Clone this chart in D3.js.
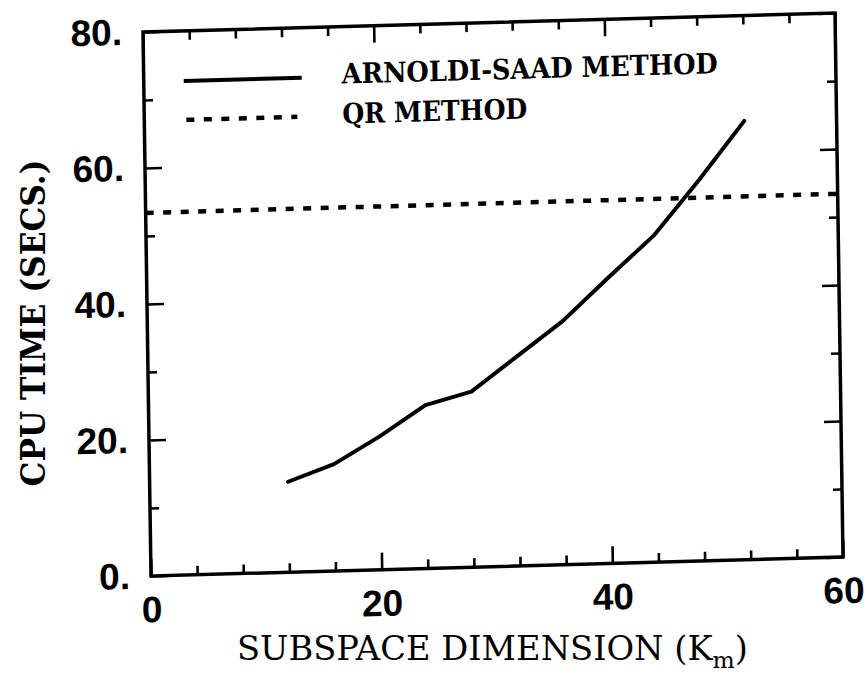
<!DOCTYPE html>
<html>
<head>
<meta charset="utf-8">
<script src="https://cdn.jsdelivr.net/npm/d3@7"></script>
<style>
  html, body { margin: 0; padding: 0; background: #fff; }
  svg { display: block; }
</style>
</head>
<body>
<svg id="chart" width="866" height="683"></svg>
<script>
// Subspace dimension (Km) and CPU time of the Arnoldi-Saad method
const subspaceDim = [12, 16, 20, 24, 28, 32, 36, 40, 44, 48, 52];
const arnoldiSaadTime = [13.3, 15.7, 19.6, 24.0, 25.8, 30.8, 35.8, 42.0, 48.0, 56.0, 64.5];

// QR method: CPU time does not depend on the subspace dimension
const qrDim = [0, 60];
const qrTime = [53.4, 53.4];

// Axis ticks
const xMajorTicks = [0, 20, 40, 60];
const xMinorTicks = [4, 8, 12, 16, 24, 28, 32, 36, 44, 48, 52, 56];
const yMajorTicks = [0, 20, 40, 60, 80];
const yMinorTicks = [10, 30, 50, 70];

const legendLabels = ["ARNOLDI-SAAD METHOD", "QR METHOD"];
const xTitle = "SUBSPACE DIMENSION (K";
const xTitleSub = "m";
const yTitle = "CPU TIME (SECS.)";

const W = 692, H = 544;
const svg = d3.select("#chart");

// plot frame, slightly sheared as on the printed page
const g = svg.append("g")
  .attr("transform", "matrix(1,-0.0275,0.0147,1,143,32)");

const x = d3.scaleLinear().domain([0, 60]).range([0, W]);
const y = d3.scaleLinear().domain([0, 80]).range([H, 0]);

const MAJ = 17, MIN = 9;
const tickFont = "'Liberation Sans', Arial, sans-serif";

function styleAxis(sel) {
  sel.select(".domain").remove();
  sel.selectAll(".tick line").attr("stroke", "#000").attr("stroke-width", 2.6);
  sel.selectAll(".tick text")
    .attr("fill", "#000")
    .style("font-family", tickFont)
    .style("font-weight", "bold")
    .style("font-size", "37px");
}

// bottom axis
g.append("g").attr("transform", `translate(0,${H})`)
  .call(d3.axisBottom(x).tickValues(xMajorTicks).tickSize(-MAJ).tickPadding(20).tickFormat(d3.format("d")))
  .call(styleAxis);
g.append("g").attr("transform", `translate(0,${H})`)
  .call(d3.axisBottom(x).tickValues(xMinorTicks).tickSize(-MIN).tickFormat(""))
  .call(styleAxis);

// top axis
g.append("g")
  .call(d3.axisTop(x).tickValues(xMajorTicks).tickSize(-MAJ).tickFormat(""))
  .call(styleAxis);
g.append("g")
  .call(d3.axisTop(x).tickValues(xMinorTicks).tickSize(-MIN).tickFormat(""))
  .call(styleAxis);

// left axis
g.append("g")
  .call(d3.axisLeft(y).tickValues(yMajorTicks).tickSize(-MAJ).tickPadding(21).tickFormat(d => d + "."))
  .call(styleAxis);
g.append("g")
  .call(d3.axisLeft(y).tickValues(yMinorTicks).tickSize(-MIN).tickFormat(""))
  .call(styleAxis);

// right axis
g.append("g").attr("transform", `translate(${W},0)`)
  .call(d3.axisRight(y).tickValues(yMajorTicks).tickSize(-MAJ).tickFormat(""))
  .call(styleAxis);
g.append("g").attr("transform", `translate(${W},0)`)
  .call(d3.axisRight(y).tickValues(yMinorTicks).tickSize(-MIN).tickFormat(""))
  .call(styleAxis);

// frame
g.append("rect")
  .attr("x", 0).attr("y", 0).attr("width", W).attr("height", H)
  .attr("fill", "none").attr("stroke", "#000").attr("stroke-width", 3.5);

// series
const arnoldi = subspaceDim.map((d, i) => [d, arnoldiSaadTime[i]]);
const qr = qrDim.map((d, i) => [d, qrTime[i]]);
const line = d3.line().x(d => x(d[0])).y(d => y(d[1]));

g.append("path")
  .datum(qr)
  .attr("d", line)
  .attr("fill", "none")
  .attr("stroke", "#000")
  .attr("stroke-width", 4.5)
  .attr("stroke-dasharray", "8 9.5");

g.append("path")
  .datum(arnoldi)
  .attr("d", line)
  .attr("fill", "none")
  .attr("stroke", "#000")
  .attr("stroke-width", 4)
  .attr("stroke-linejoin", "round")
  .attr("stroke-linecap", "round");

// legend
const legendFont = "'DejaVu Serif', 'Liberation Serif', serif";
const legend = g.append("g");
legend.append("line")
  .attr("x1", 40).attr("x2", 158).attr("y1", 50).attr("y2", 50)
  .attr("stroke", "#000").attr("stroke-width", 4);
legend.append("line")
  .attr("x1", 42).attr("x2", 153).attr("y1", 89).attr("y2", 89)
  .attr("stroke", "#000").attr("stroke-width", 4.5)
  .attr("stroke-dasharray", "8 9.5");
legend.selectAll("text.leg")
  .data(legendLabels)
  .join("text")
  .attr("class", "leg")
  .attr("x", 198)
  .attr("y", (d, i) => i === 0 ? 57 : 97)
  .attr("textLength", (d, i) => i === 0 ? 376 : 185)
  .attr("lengthAdjust", "spacingAndGlyphs")
  .style("font-family", legendFont)
  .style("font-weight", "bold")
  .style("font-size", "28px")
  .text(d => d);

// axis titles
const xt = svg.append("text")
  .attr("x", 237).attr("y", 660)
  .attr("textLength", 511)
  .attr("lengthAdjust", "spacingAndGlyphs")
  .style("font-family", legendFont)
  .style("font-size", "33px");
xt.append("tspan").text(xTitle);
xt.append("tspan").attr("dy", 8).style("font-size", "23px").text(xTitleSub);
xt.append("tspan").attr("dy", -8).text(")");

svg.append("text")
  .attr("transform", "translate(45,323) rotate(-90)")
  .attr("text-anchor", "middle")
  .attr("textLength", 327)
  .attr("lengthAdjust", "spacingAndGlyphs")
  .style("font-family", legendFont)
  .style("font-weight", "bold")
  .style("font-size", "33px")
  .text(yTitle);
</script>
</body>
</html>
